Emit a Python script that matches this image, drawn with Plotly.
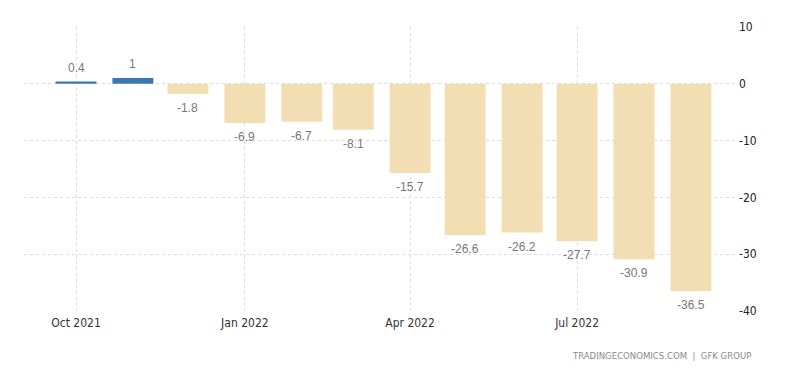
import plotly.graph_objects as go

months = ["2021-10-01", "2021-11-01", "2021-12-01", "2022-01-01", "2022-02-01", "2022-03-01",
          "2022-04-01", "2022-05-01", "2022-06-01", "2022-07-01", "2022-08-01", "2022-09-01"]
values = [0.4, 1, -1.8, -6.9, -6.7, -8.1, -15.7, -26.6, -26.2, -27.7, -30.9, -36.5]
labels = ["0.4", "1", "-1.8", "-6.9", "-6.7", "-8.1", "-15.7", "-26.6", "-26.2", "-27.7", "-30.9", "-36.5"]
tick_dates = ["2021-10-01", "2022-01-01", "2022-04-01", "2022-07-01"]
tick_text = ["Oct 2021", "Jan 2022", "Apr 2022", "Jul 2022"]
y_ticks = [10, 0, -10, -20, -30, -40]
y_tick_text = ["10", "0", "-10", "-20", "-30", "-40"]

POS = "#3c77ae"
NEG = "#f3ddb3"
colors = [POS if v >= 0 else NEG for v in values]

fig = go.Figure()
fig.add_trace(go.Bar(
    x=months, y=values, marker=dict(color=colors, line=dict(width=0)),
    width=22.3 * 86400000, hoverinfo="x+y",
))

for d, v, t in zip(months, values, labels):
    fig.add_annotation(
        x=d, y=v, text=t, showarrow=False,
        yshift=14 if v >= 0 else -14,
        font=dict(family="Arial, Liberation Sans, sans-serif", size=12, color="#777777"),
    )

fig.add_annotation(
    xref="paper", yref="paper", x=1.021, y=-0.155, xanchor="right", yanchor="middle",
    text="TRADINGECONOMICS.COM  |  GFK GROUP", showarrow=False,
    font=dict(family="DejaVu Sans Condensed, Arial, sans-serif", size=9.5, color="#8a8a8a"),
)

fig.update_layout(
    width=800, height=373,
    margin=dict(l=16, r=70, t=13, b=70),
    plot_bgcolor="white", paper_bgcolor="white",
    showlegend=False,
    xaxis=dict(
        type="date",
        range=["2021-09-02 16:00", "2022-09-26 16:00"],
        tickvals=tick_dates, ticktext=tick_text,
        showgrid=True, gridcolor="#dddddd", griddash="dot", gridwidth=1,
        zeroline=False, showline=False, ticks="",
        ticklabelstandoff=3,
        tickfont=dict(family="Liberation Sans Narrow, Arial Narrow, DejaVu Sans Condensed, sans-serif", size=12, color="#333333"),
    ),
    yaxis=dict(
        side="right", range=[-40, 10], tickvals=y_ticks, ticktext=y_tick_text,
        showgrid=True, gridcolor="#dddddd", griddash="dot", gridwidth=1,
        zeroline=False, showline=False, ticks="",
        tickfont=dict(family="Liberation Sans Narrow, Arial Narrow, DejaVu Sans Condensed, sans-serif", size=12, color="#222222"),
    ),
)

fig.write_html("out.html")
